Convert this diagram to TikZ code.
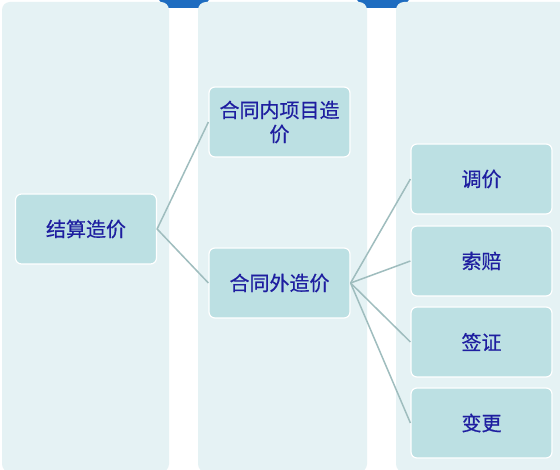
\documentclass[tikz,border=0pt]{standalone}
\usepackage{fontspec}
\newfontfamily\cjk[FakeBold=0.5]{Noto Sans CJK SC}
\definecolor{colbg}{HTML}{E5F2F4}
\definecolor{nodebg}{HTML}{BCE0E3}
\definecolor{txt}{HTML}{1E1EA0}
\definecolor{conn}{HTML}{9FBDBE}
\definecolor{tab}{HTML}{1E6CC0}
\tikzset{
  colbox/.style={fill=colbg, draw=none, rounded corners=8pt},
  item/.style={fill=nodebg, draw=white, line width=1.2pt, rounded corners=6pt,
    minimum width=141pt, minimum height=70pt, inner sep=4pt,
    font=\cjk\fontsize{20pt}{24pt}\selectfont, text=txt, align=center},
  link/.style={draw=conn, line width=1.5pt},
  tabshape/.style={fill=tab, draw=none}
}
\begin{document}
\begin{tikzpicture}[x=1pt,y=-1pt]
\useasboundingbox (0,0) rectangle (560,470);
\fill[white] (0,0) rectangle (560,470);
% blue tabs
\fill[tabshape, rounded corners=2pt] (157,-3) -- (211,-3) -- (203,8) -- (165,8) -- cycle;
\fill[tabshape, rounded corners=2pt] (355,-3) -- (411,-3) -- (403,8) -- (363,8) -- cycle;
% column backgrounds
\fill[colbox] (2,2) rectangle (169,472);
\fill[colbox] (198,2) rectangle (367,472);
\fill[colbox] (396,2) rectangle (572,472);
% tiny corner glow
\fill[cyan!30, opacity=0.6] (0,0) -- (7,0) arc[start angle=0, end angle=-90, radius=7] -- cycle;
% nodes
\node[item] (root) at (86,229) {结算造价};
\node[item] (in) at (279.5,122) {合同内项目造\\价};
\node[item] (out) at (279.5,283) {合同外造价};
\node[item] (a) at (481.5,179) {调价};
\node[item] (b) at (481.5,261) {索赔};
\node[item] (c) at (481.5,342) {签证};
\node[item] (d) at (481.5,423) {变更};
% connectors
\draw[link] (in.west) -- (root.east) -- (out.west);
\foreach \n in {a,b,c,d} \draw[link] (out.east) -- (\n.west);
\end{tikzpicture}
\end{document}
